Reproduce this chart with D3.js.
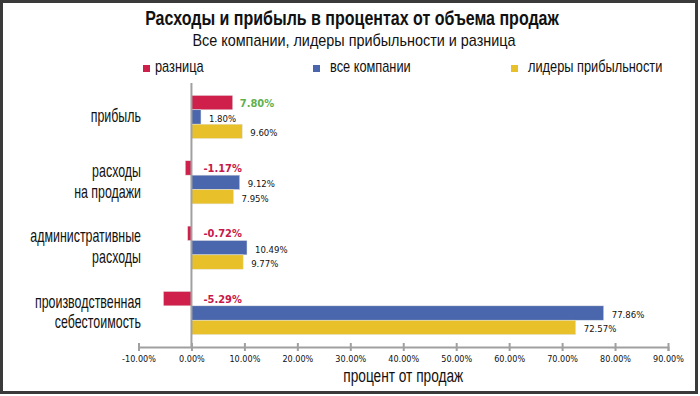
<!DOCTYPE html>
<html>
<head>
<meta charset="utf-8">
<script src="https://cdn.jsdelivr.net/npm/d3@7"></script>
<style>
	body { margin: 0; background: #fff; }
	svg { display: block; }
</style>
</head>
<body>
<svg id="chart" width="700" height="396"></svg>
<script>
const categories = ["прибыль", "расходы\nна продажи", "административные\nрасходы", "производственная\nсебестоимость"];
const seriesNames = ["разница", "все компании", "лидеры прибыльности"];
const diffValues = [7.8, -1.17, -0.72, -5.29];
const allValues = [1.8, 9.12, 10.49, 77.86];
const leaderValues = [9.6, 7.95, 9.77, 72.57];
const tickValues = [-10, 0, 10, 20, 30, 40, 50, 60, 70, 80, 90];

const colors = {
	red: "#CF1F4B",
	blue: "#4A66AC",
	yellow: "#E8C12A",
	green: "#5FB04F",
	labelRed: "#C8184A",
	axis: "#A0A0A0",
};
const seriesColors = [colors.red, colors.blue, colors.yellow];

const narrow = "'Liberation Sans', Arial, sans-serif";
const small = "'DejaVu Sans Condensed', 'DejaVu Sans', sans-serif";

const pct = (v) => (v < 0 ? "-" : "") + Math.abs(v).toFixed(2) + "%";

const svg = d3.select("#chart");

// no narrow font available, so squeeze the text horizontally
function narrowText(parent, x, y, str, size, squeeze, anchor, weight) {
	return parent.append("text")
		.attr("transform", `translate(${x},${y}) scale(${squeeze},1)`)
		.attr("text-anchor", anchor || "start")
		.attr("font-family", narrow)
		.attr("font-weight", weight || "normal")
		.attr("font-size", size)
		.attr("fill", "#111")
		.text(str);
}

// frame
svg.append("rect")
	.attr("x", 1.5)
	.attr("y", 1.5)
	.attr("width", 695)
	.attr("height", 391)
	.attr("fill", "#fff")
	.attr("stroke", "#3a3a3a")
	.attr("stroke-width", 3);

// titles
narrowText(svg, 352, 25, "Расходы и прибыль в процентах от объема продаж", 20, 0.8, "middle", "bold");
narrowText(svg, 354, 46, "Все компании, лидеры прибыльности и разница", 16, 0.9, "middle");

// legend
const legendX = [143, 313, 511];
seriesNames.forEach((name, i) => {
	const g = svg.append("g").attr("transform", `translate(${legendX[i]},0)`);
	g.append("rect")
		.attr("x", 0)
		.attr("y", 65)
		.attr("width", 7)
		.attr("height", 7)
		.attr("fill", seriesColors[i]);
	narrowText(g, i === 0 ? 12 : 17, 72, name, 16, 0.8);
});

// scales
const x = d3.scaleLinear().domain([-10, 90]).range([138.5, 668]);
const y = d3.scaleBand().domain(categories).range([83, 347]).paddingInner(0.34).paddingOuter(0.19);
const ySub = d3.scaleBand().domain(seriesNames).range([0, y.bandwidth()]);

const rows = categories.map((c, i) => ({
	category: c,
	values: [diffValues[i], allValues[i], leaderValues[i]],
}));

// x axis
const xAxis = svg.append("g")
	.attr("transform", "translate(0,347)")
	.call(d3.axisBottom(x).tickValues(tickValues).tickSize(4).tickFormat(pct));
xAxis.select(".domain").attr("stroke", colors.axis).attr("stroke-width", 2);
xAxis.selectAll(".tick line").attr("stroke", colors.axis).attr("stroke-width", 2).attr("y1", -4);
xAxis.selectAll(".tick text")
	.attr("y", 15)
	.attr("dy", 0)
	.attr("font-family", small)
	.attr("font-size", 9)
	.attr("fill", "#111");

narrowText(svg, x(40), 382, "процент от продаж", 19, 0.72, "middle");

// category labels
categories.forEach((c) => {
	const lines = c.split("\n");
	const cy = y(c) + y.bandwidth() / 2;
	lines.forEach((l, i) => {
		narrowText(svg, 141, cy + 5 + (i - (lines.length - 1) / 2) * 20.5, l, 18, 0.69, "end");
	});
});

// bars
const group = svg.selectAll(".group")
	.data(rows)
	.join("g")
	.attr("class", "group")
	.attr("transform", (d) => `translate(0,${y(d.category)})`);

group.selectAll(".bar")
	.data((d) => d.values.map((v, i) => ({ value: v, series: seriesNames[i], index: i })))
	.join("rect")
	.attr("class", "bar")
	.attr("x", (d) => x(Math.min(0, d.value)))
	.attr("y", (d) => ySub(d.series))
	.attr("width", (d) => Math.abs(x(d.value) - x(0)))
	.attr("height", ySub.bandwidth())
	.attr("fill", (d) => seriesColors[d.index])
	.attr("stroke", "#e4e4e4")
	.attr("stroke-width", 0.5);

// value labels
group.selectAll(".valueLabel")
	.data((d) => d.values.map((v, i) => ({ value: v, series: seriesNames[i], index: i })))
	.join("text")
	.attr("class", "valueLabel")
	.attr("x", (d) => {
		if (d.index === 0 && d.value < 0) return x(0) + 12;
		return x(d.value) + (d.index === 0 ? 7 : 8);
	})
	.attr("y", (d) => ySub(d.series) + ySub.bandwidth() / 2 + (d.index === 0 ? 4 : 5))
	.attr("font-family", small)
	.attr("font-size", (d) => (d.index === 0 ? 11 : 9.5))
	.attr("font-weight", (d) => (d.index === 0 ? "bold" : "normal"))
	.attr("fill", (d) => (d.index === 0 ? (d.value > 0 ? colors.green : colors.labelRed) : "#111"))
	.text((d) => pct(d.value));

// zero line
svg.append("line")
	.attr("x1", x(0))
	.attr("x2", x(0))
	.attr("y1", 83)
	.attr("y2", 347)
	.attr("stroke", colors.axis)
	.attr("stroke-width", 2);
</script>
</body>
</html>
